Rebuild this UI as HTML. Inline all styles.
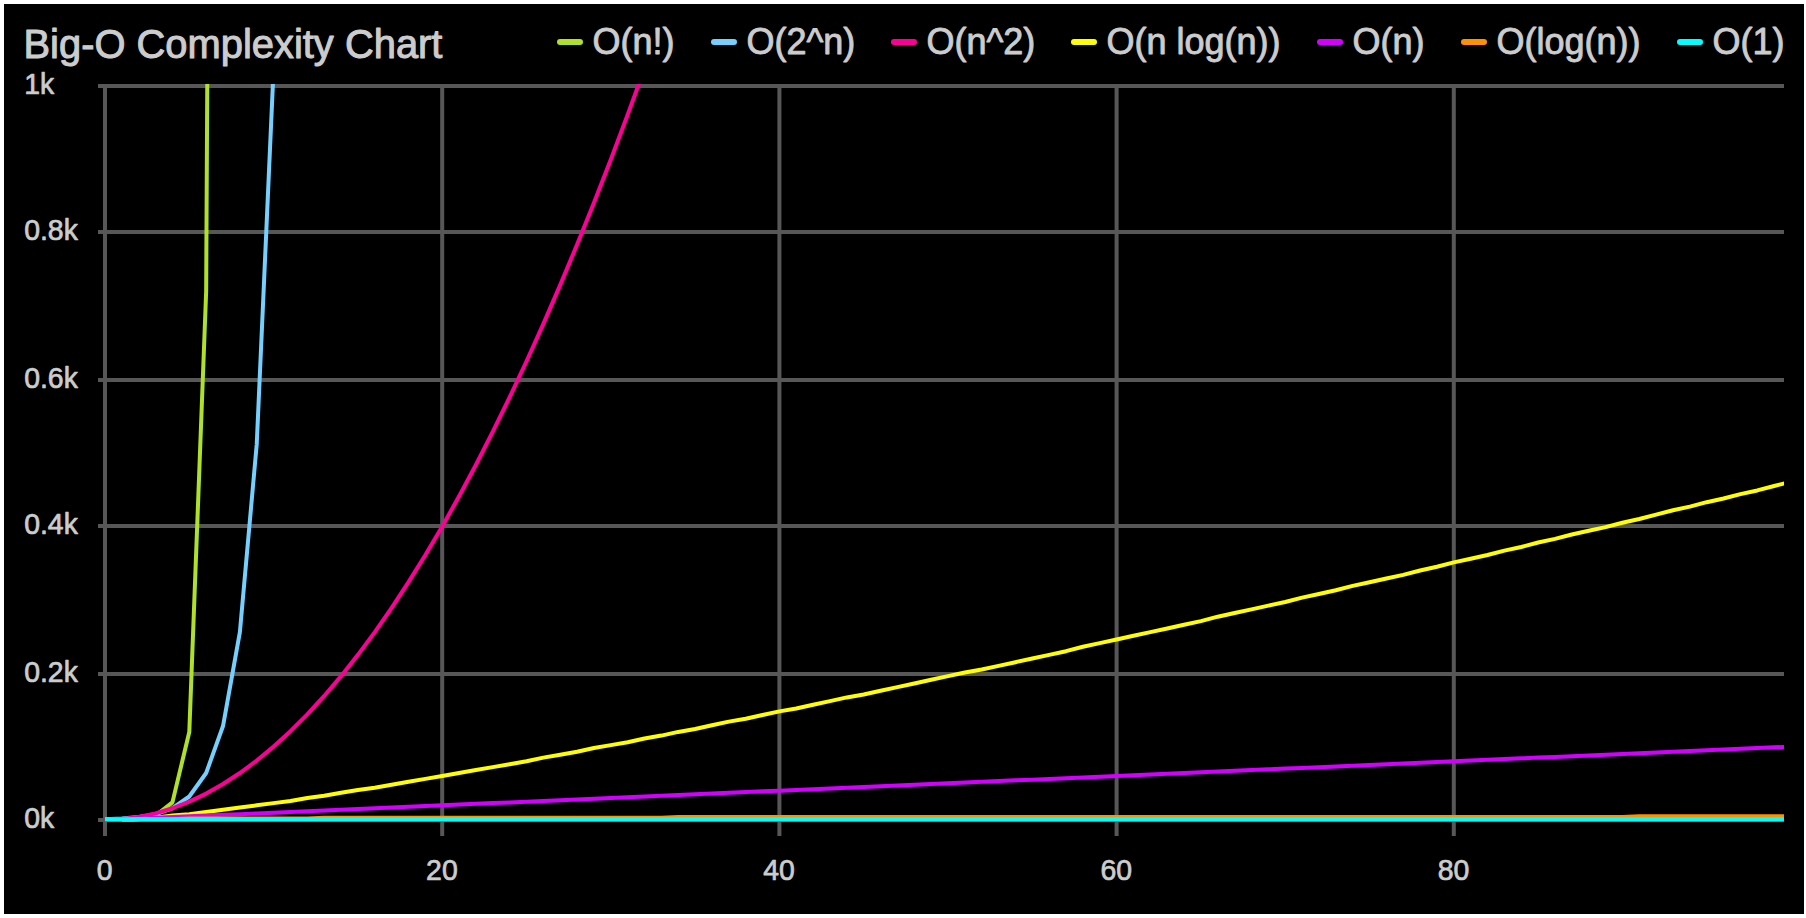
<!DOCTYPE html>
<html lang="en"><head><meta charset="utf-8"><title>Big-O Complexity Chart</title>
<style>
html,body{margin:0;padding:0;background:#fff;}
body{width:1806px;height:918px;overflow:hidden;}
svg{display:block;position:absolute;left:0;top:0;}
text{font-family:"Liberation Sans",Arial,Helvetica,sans-serif;fill:#cccccc;stroke:#cccccc;stroke-width:1px;stroke-linejoin:round;}
.t{font-size:39.9px;stroke-width:1px;}
.l{font-size:36px;stroke-width:0.9px;}
.a{font-size:28.4px;stroke-width:0.7px;}
</style></head><body>
<svg width="1806" height="918" viewBox="0 0 1806 918">
<defs><clipPath id="c"><rect x="103" y="84" width="1681" height="740"/></clipPath></defs>
<rect x="4" y="4" width="1800" height="910" fill="#000"/>

<text class="t" transform="translate(23.50 57.80) scale(1 1.015)">Big-O Complexity Chart</text>
<path d="M98 86.0H1784 M98 232.0H1784 M98 380.0H1784 M98 526.0H1784 M98 674.0H1784 M98 820.0H1784 M105.0 86V836 M442.2 86V836 M779.4 86V836 M1116.6 86V836 M1453.8 86V836" stroke="#575757" stroke-width="4" fill="none"/>
<text class="a" transform="translate(24.20 93.80) scale(1 1.020)">1k</text>
<text class="a" transform="translate(24.20 239.80) scale(1 1.020)">0.8k</text>
<text class="a" transform="translate(24.20 387.80) scale(1 1.020)">0.6k</text>
<text class="a" transform="translate(24.20 533.80) scale(1 1.020)">0.4k</text>
<text class="a" transform="translate(24.20 681.80) scale(1 1.020)">0.2k</text>
<text class="a" transform="translate(24.20 827.80) scale(1 1.020)">0k</text>
<text class="a" transform="translate(104.70 880.00) scale(1 1.020)" text-anchor="middle">0</text>
<text class="a" transform="translate(441.90 880.00) scale(1 1.020)" text-anchor="middle">20</text>
<text class="a" transform="translate(779.10 880.00) scale(1 1.020)" text-anchor="middle">40</text>
<text class="a" transform="translate(1116.30 880.00) scale(1 1.020)" text-anchor="middle">60</text>
<text class="a" transform="translate(1453.50 880.00) scale(1 1.020)" text-anchor="middle">80</text>
<g clip-path="url(#c)" fill="none" stroke-width="4" stroke-linejoin="round">
<polyline stroke="#afe126" points="105.00,819.27 121.86,819.27 138.72,818.53 155.58,815.60 172.44,802.38 189.30,731.92 206.16,291.52 223.02,-2879.36"/>
<polyline stroke="#73d0ff" points="105.00,819.27 121.86,818.53 138.72,817.06 155.58,814.13 172.44,808.26 189.30,796.51 206.16,773.02 223.02,726.05 239.88,632.10 256.74,444.19 273.60,68.38 290.46,-683.23 307.32,-2186.46"/>
<polyline stroke="#fa0096" points="105.00,820.00 121.86,819.27 138.72,817.06 155.58,813.39 172.44,808.26 189.30,801.65 206.16,793.58 223.02,784.03 239.88,773.02 256.74,760.55 273.60,746.60 290.46,731.19 307.32,714.30 324.18,695.95 341.04,676.14 357.90,654.85 374.76,632.10 391.62,607.87 408.48,582.18 425.34,555.03 442.20,526.40 459.06,496.31 475.92,464.74 492.78,431.71 509.64,397.22 526.50,361.25 543.36,323.82 560.22,284.91 577.08,244.54 593.94,202.71 610.80,159.40 627.66,114.63 644.52,68.38 661.38,20.67 678.24,-28.50 695.10,-79.15 711.96,-131.26 728.82,-184.85 745.68,-239.90 762.54,-296.41 779.40,-354.40 796.26,-413.85 813.12,-474.78 829.98,-537.17 846.84,-601.02 863.70,-666.35 880.56,-733.14 897.42,-801.41 914.28,-871.14 931.14,-942.33 948.00,-1015.00 964.86,-1089.13 981.72,-1164.74 998.58,-1241.81 1015.44,-1320.34 1032.30,-1400.35"/>
<polyline stroke="#ffff00" points="121.86,820.00 138.72,819.27 155.58,817.80 172.44,815.60 189.30,814.13 206.16,811.93 223.02,809.72 239.88,807.52 256.74,805.32 273.60,803.12 290.46,800.92 307.32,797.98 324.18,795.78 341.04,792.84 357.90,789.91 374.76,787.70 391.62,784.77 408.48,781.83 425.34,778.90 442.20,775.96 459.06,773.02 475.92,770.09 492.78,767.15 509.64,764.22 526.50,761.28 543.36,757.61 560.22,754.67 577.08,751.74 593.94,748.07 610.80,745.13 627.66,742.20 644.52,738.53 661.38,735.59 678.24,731.92 695.10,728.98 711.96,725.31 728.82,721.64 745.68,718.71 762.54,715.04 779.40,711.37 796.26,708.43 813.12,704.76 829.98,701.09 846.84,697.42 863.70,694.49 880.56,690.82 897.42,687.15 914.28,683.48 931.14,679.81 948.00,676.14 964.86,672.47 981.72,669.53 998.58,665.86 1015.44,662.19 1032.30,658.52 1049.16,654.85 1066.02,651.18 1082.88,646.78 1099.74,643.11 1116.60,639.44 1133.46,635.77 1150.32,632.10 1167.18,628.43 1184.04,624.76 1200.90,621.09 1217.76,616.68 1234.62,613.01 1251.48,609.34 1268.34,605.67 1285.20,602.00 1302.06,597.60 1318.92,593.93 1335.78,590.26 1352.64,585.85 1369.50,582.18 1386.36,578.51 1403.22,574.84 1420.08,570.44 1436.94,566.77 1453.80,562.37 1470.66,558.70 1487.52,555.03 1504.38,550.62 1521.24,546.95 1538.10,542.55 1554.96,538.88 1571.82,534.47 1588.68,530.80 1605.54,527.13 1622.40,522.73 1639.26,519.06 1656.12,514.66 1672.98,510.25 1689.84,506.58 1706.70,502.18 1723.56,498.51 1740.42,494.10 1757.28,490.43 1774.14,486.03 1791.00,481.63"/>
<polyline stroke="#d200ff" points="105.00,820.00 121.86,819.27 138.72,818.53 155.58,817.80 172.44,817.06 189.30,816.33 206.16,815.60 223.02,814.86 239.88,814.13 256.74,813.39 273.60,812.66 290.46,811.93 307.32,811.19 324.18,810.46 341.04,809.72 357.90,808.99 374.76,808.26 391.62,807.52 408.48,806.79 425.34,806.05 442.20,805.32 459.06,804.59 475.92,803.85 492.78,803.12 509.64,802.38 526.50,801.65 543.36,800.92 560.22,800.18 577.08,799.45 593.94,798.71 610.80,797.98 627.66,797.25 644.52,796.51 661.38,795.78 678.24,795.04 695.10,794.31 711.96,793.58 728.82,792.84 745.68,792.11 762.54,791.37 779.40,790.64 796.26,789.91 813.12,789.17 829.98,788.44 846.84,787.70 863.70,786.97 880.56,786.24 897.42,785.50 914.28,784.77 931.14,784.03 948.00,783.30 964.86,782.57 981.72,781.83 998.58,781.10 1015.44,780.36 1032.30,779.63 1049.16,778.90 1066.02,778.16 1082.88,777.43 1099.74,776.69 1116.60,775.96 1133.46,775.23 1150.32,774.49 1167.18,773.76 1184.04,773.02 1200.90,772.29 1217.76,771.56 1234.62,770.82 1251.48,770.09 1268.34,769.35 1285.20,768.62 1302.06,767.89 1318.92,767.15 1335.78,766.42 1352.64,765.68 1369.50,764.95 1386.36,764.22 1403.22,763.48 1420.08,762.75 1436.94,762.01 1453.80,761.28 1470.66,760.55 1487.52,759.81 1504.38,759.08 1521.24,758.34 1538.10,757.61 1554.96,756.88 1571.82,756.14 1588.68,755.41 1605.54,754.67 1622.40,753.94 1639.26,753.21 1656.12,752.47 1672.98,751.74 1689.84,751.00 1706.70,750.27 1723.56,749.54 1740.42,748.80 1757.28,748.07 1774.14,747.33 1791.00,746.60"/>
<polyline stroke="#ff9100" points="121.86,820.00 138.72,819.27 155.58,819.27 172.44,819.27 189.30,818.53 206.16,818.53 223.02,818.53 239.88,818.53 256.74,818.53 273.60,818.53 290.46,818.53 307.32,818.53 324.18,817.80 341.04,817.80 357.90,817.80 374.76,817.80 391.62,817.80 408.48,817.80 425.34,817.80 442.20,817.80 459.06,817.80 475.92,817.80 492.78,817.80 509.64,817.80 526.50,817.80 543.36,817.80 560.22,817.80 577.08,817.80 593.94,817.80 610.80,817.80 627.66,817.80 644.52,817.80 661.38,817.80 678.24,817.06 695.10,817.06 711.96,817.06 728.82,817.06 745.68,817.06 762.54,817.06 779.40,817.06 796.26,817.06 813.12,817.06 829.98,817.06 846.84,817.06 863.70,817.06 880.56,817.06 897.42,817.06 914.28,817.06 931.14,817.06 948.00,817.06 964.86,817.06 981.72,817.06 998.58,817.06 1015.44,817.06 1032.30,817.06 1049.16,817.06 1066.02,817.06 1082.88,817.06 1099.74,817.06 1116.60,817.06 1133.46,817.06 1150.32,817.06 1167.18,817.06 1184.04,817.06 1200.90,817.06 1217.76,817.06 1234.62,817.06 1251.48,817.06 1268.34,817.06 1285.20,817.06 1302.06,817.06 1318.92,817.06 1335.78,817.06 1352.64,817.06 1369.50,817.06 1386.36,817.06 1403.22,817.06 1420.08,817.06 1436.94,817.06 1453.80,817.06 1470.66,817.06 1487.52,817.06 1504.38,817.06 1521.24,817.06 1538.10,817.06 1554.96,817.06 1571.82,817.06 1588.68,817.06 1605.54,817.06 1622.40,817.06 1639.26,816.33 1656.12,816.33 1672.98,816.33 1689.84,816.33 1706.70,816.33 1723.56,816.33 1740.42,816.33 1757.28,816.33 1774.14,816.33 1791.00,816.33"/>
<polyline stroke="#00ffff" points="105.00,819.27 121.86,819.27 138.72,819.27 155.58,819.27 172.44,819.27 189.30,819.27 206.16,819.27 223.02,819.27 239.88,819.27 256.74,819.27 273.60,819.27 290.46,819.27 307.32,819.27 324.18,819.27 341.04,819.27 357.90,819.27 374.76,819.27 391.62,819.27 408.48,819.27 425.34,819.27 442.20,819.27 459.06,819.27 475.92,819.27 492.78,819.27 509.64,819.27 526.50,819.27 543.36,819.27 560.22,819.27 577.08,819.27 593.94,819.27 610.80,819.27 627.66,819.27 644.52,819.27 661.38,819.27 678.24,819.27 695.10,819.27 711.96,819.27 728.82,819.27 745.68,819.27 762.54,819.27 779.40,819.27 796.26,819.27 813.12,819.27 829.98,819.27 846.84,819.27 863.70,819.27 880.56,819.27 897.42,819.27 914.28,819.27 931.14,819.27 948.00,819.27 964.86,819.27 981.72,819.27 998.58,819.27 1015.44,819.27 1032.30,819.27 1049.16,819.27 1066.02,819.27 1082.88,819.27 1099.74,819.27 1116.60,819.27 1133.46,819.27 1150.32,819.27 1167.18,819.27 1184.04,819.27 1200.90,819.27 1217.76,819.27 1234.62,819.27 1251.48,819.27 1268.34,819.27 1285.20,819.27 1302.06,819.27 1318.92,819.27 1335.78,819.27 1352.64,819.27 1369.50,819.27 1386.36,819.27 1403.22,819.27 1420.08,819.27 1436.94,819.27 1453.80,819.27 1470.66,819.27 1487.52,819.27 1504.38,819.27 1521.24,819.27 1538.10,819.27 1554.96,819.27 1571.82,819.27 1588.68,819.27 1605.54,819.27 1622.40,819.27 1639.26,819.27 1656.12,819.27 1672.98,819.27 1689.84,819.27 1706.70,819.27 1723.56,819.27 1740.42,819.27 1757.28,819.27 1774.14,819.27 1791.00,819.27"/>
</g>
<path d="M560 42h20" stroke="#afe126" stroke-width="6" stroke-linecap="round"/>
<text class="l" transform="translate(592.40 54.00) scale(1 1.015)">O(n!)</text>
<path d="M714 42h20" stroke="#73d0ff" stroke-width="6" stroke-linecap="round"/>
<text class="l" transform="translate(746.40 54.00) scale(1 1.015)">O(2^n)</text>
<path d="M894 42h20" stroke="#fa0096" stroke-width="6" stroke-linecap="round"/>
<text class="l" transform="translate(926.40 54.00) scale(1 1.015)">O(n^2)</text>
<path d="M1074 42h20" stroke="#ffff00" stroke-width="6" stroke-linecap="round"/>
<text class="l" transform="translate(1106.40 54.00) scale(1 1.015)">O(n log(n))</text>
<path d="M1320 42h20" stroke="#d200ff" stroke-width="6" stroke-linecap="round"/>
<text class="l" transform="translate(1352.40 54.00) scale(1 1.015)">O(n)</text>
<path d="M1464 42h20" stroke="#ff9100" stroke-width="6" stroke-linecap="round"/>
<text class="l" transform="translate(1496.40 54.00) scale(1 1.015)">O(log(n))</text>
<path d="M1680 42h20" stroke="#00ffff" stroke-width="6" stroke-linecap="round"/>
<text class="l" transform="translate(1712.40 54.00) scale(1 1.015)">O(1)</text>
</svg></body></html>
